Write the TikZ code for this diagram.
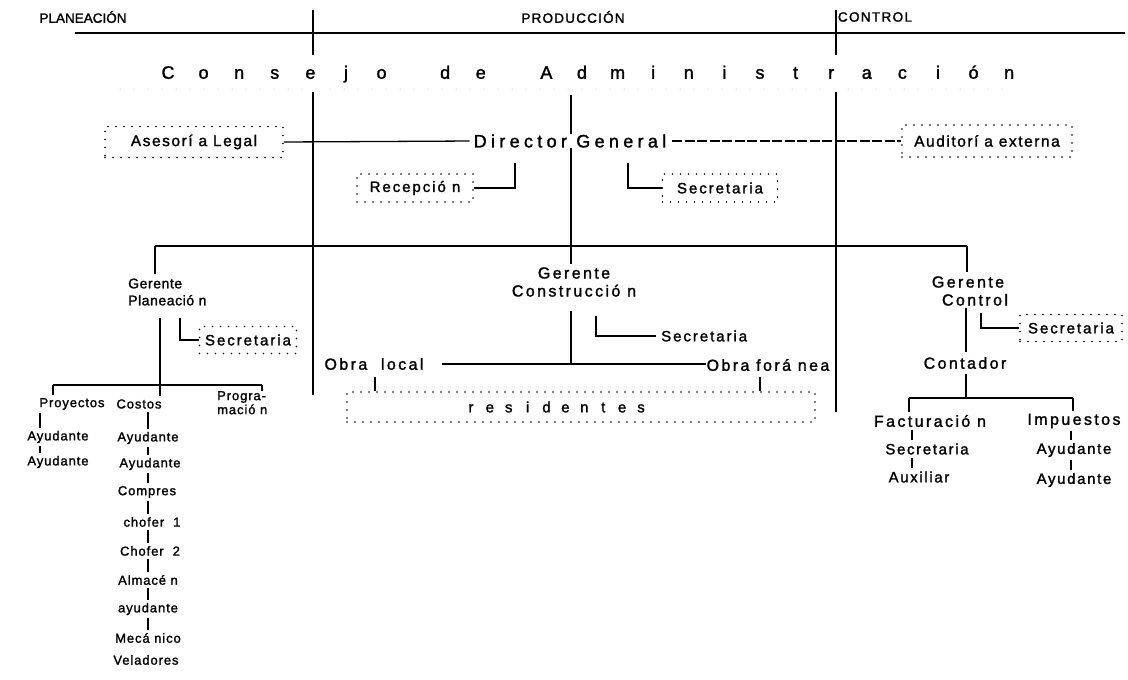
\documentclass[tikz,border=0pt]{standalone}
\usepackage{fontspec}
\setmainfont{Liberation Sans}[FakeBold=1.5]
\newcommand\cpitch[1]{\makebox[35.6pt]{#1}}
\newcommand\rpitch[1]{\makebox[18.9pt]{#1}}
\begin{document}
\begin{tikzpicture}[x=1pt,y=-1pt,
  conn/.style={line width=1.3pt},
  divider/.style={line width=1.8pt},
  dotbox/.style={draw, line width=1.6pt, dash pattern=on 0pt off 8pt, line cap=round, inner sep=0pt},
  hdr/.style={inner sep=0pt, font=\fontsize{13.5}{15}\selectfont\addfontfeature{LetterSpace=#1}},
  dgtxt/.style={inner sep=0pt, font=\fontsize{18}{20}\selectfont\addfontfeature{LetterSpace=24}},
  mid/.style={inner sep=0pt, align=center, font=\fontsize{16}{18}\selectfont\addfontfeature{LetterSpace=15}},
  low/.style={inner sep=0pt, font=\fontsize{15}{15}\selectfont\addfontfeature{LetterSpace=11}},
  lft/.style={inner sep=0pt, align=left, font=\fontsize{14}{17}\selectfont\addfontfeature{LetterSpace=4}},
  sml/.style={inner sep=0pt, font=\fontsize{13}{14}\selectfont\addfontfeature{LetterSpace=7}},
  tiny/.style={inner sep=0pt, font=\fontsize{15}{15}\selectfont\addfontfeature{LetterSpace=13}},
  boxtxt/.style={font=\fontsize{15.5}{16}\selectfont\addfontfeature{LetterSpace=10}},
  tick/.style={conn, shorten <=3pt, shorten >=3pt},
]
\fill[white] (0,0) rectangle (1128,680);
\useasboundingbox (0,0) rectangle (1128,680);

% ---- column headings and dividers
\node[hdr=0] (hplan) at (83,17) {PLANEACIÓN};
\node[hdr=9] (hprod) at (573,17) {PRODUCCIÓN};
\node[hdr=10] (hctrl) at (875,17) {CONTROL};
\coordinate (hl) at (75,33);
\coordinate (hr) at (1125,33);
\draw[conn] (hl) -- (hr);

\coordinate (d1a) at (313,10);  \coordinate (d1b) at (313,55);
\coordinate (d1c) at (313,92);  \coordinate (d1d) at (313,395);
\coordinate (d2a) at (836,10);  \coordinate (d2b) at (836,55);
\coordinate (d2c) at (836,92);  \coordinate (d2d) at (836,412);
\draw[divider] (d1a) -- (d1b) (d1c) -- (d1d);
\draw[divider] (d2a) -- (d2b) (d2c) -- (d2d);

% ---- board
\node[anchor=west, inner sep=0pt, font=\fontsize{18}{18}\selectfont] (cons) at (150,74)
  {\cpitch{C}\cpitch{o}\cpitch{n}\cpitch{s}\cpitch{e}\cpitch{j}\cpitch{o}\hspace{28pt}%
   \cpitch{d}\cpitch{e}\hspace{30pt}%
   \cpitch{A}\cpitch{d}\cpitch{m}\cpitch{i}\cpitch{n}\cpitch{i}\cpitch{s}\cpitch{t}\cpitch{r}\cpitch{a}\cpitch{c}\cpitch{i}\cpitch{ó}\cpitch{n}};
\coordinate (cdl) at (120,89);
\coordinate (cdr) at (1015,89);
\draw[gray!70, line width=1pt, dash pattern=on 0pt off 14pt, line cap=round] (cdl) -- (cdr);

% ---- general management
\node[dgtxt] (dg) at (570,141) {Director General};
\coordinate (ctop) at (571,95);
\draw[conn] (ctop) -- (ctop |- dg.north);

\node[dotbox, boxtxt, minimum width=178, minimum height=31] (ase) at (194,142) {Asesorí a Legal};
\node[dotbox, boxtxt, minimum width=170, minimum height=32] (aud) at (987,141) {Auditorí a externa};
\draw[conn, shorten >=4pt] (ase.east) -- (dg.west);
\draw[conn, dash pattern=on 10pt off 2.5pt, shorten <=6pt] (dg.east) -- (aud.west);

\node[dotbox, tiny, minimum width=116, minimum height=28] (rec) at (415,188) {Recepció n};
\node[dotbox, tiny, minimum width=115, minimum height=28] (sdg) at (720,188) {Secretaria};
\coordinate (rectop) at (515,163);
\coordinate (sdgtop) at (628,163);
\draw[conn] (rec.east) -| (rectop);
\draw[conn] (sdgtop) |- (sdg.west);

% ---- managers
\coordinate (busL) at (155,246);
\coordinate (busR) at (967,246);
\draw[conn] (busL) -- (busR);

\node[lft, anchor=west] (gpl) at (128,292) {Gerente\\Planeació n};
\node[mid] (gcon) at (574,282) {Gerente\\Construcció n};
\node[mid] (gctl) at (968,291) {Gerente\\\hspace*{14pt}Control};

\draw[conn, shorten >=4pt] (busL) -- (busL |- gpl.north);
\draw[conn, shorten >=3pt] (ctop |- dg.south) -- (ctop |- gcon.north);
\draw[conn, shorten >=4pt] (busR) -- (busR |- gctl.north);

% ---- planning branch
\node[dotbox, tiny, minimum width=97, minimum height=27] (spl) at (248,340) {Secretaria};
\coordinate (gpls) at (180,318);
\draw[conn] (gpls) |- (spl.west);

\coordinate (gplb) at (160,318);
\coordinate (lbusL) at (53,385);
\coordinate (lbusC) at (160,385);
\coordinate (lbusR) at (262,385);
\draw[conn] (gplb) -- (lbusC);
\draw[conn] (lbusL) -- (lbusR);

\node[sml] (proy) at (72,404) {Proyectos};
\node[sml] (cost) at (139,404) {Costos};
\node[sml, align=left, anchor=north west] (prog) at (217,391) {Progra-\\mació n};
\draw[conn, shorten >=3pt] (lbusL) -- (lbusL |- proy.north);
\draw[conn, shorten >=3pt] (lbusC) -- (lbusC |- cost.north);
\draw[conn] (lbusR) -- (lbusR |- prog.north);

\node[sml] (pa1) at (58,437) {Ayudante};
\node[sml] (pa2) at (58,462) {Ayudante};
\coordinate (pt1) at (40,437);
\draw[tick] (proy.south -| pt1) -- (pa1.north -| pt1);
\draw[tick] (pa1.south -| pt1) -- (pa2.north -| pt1);

\node[sml] (ca1) at (148,438) {Ayudante};
\node[sml] (ca2) at (150,464) {Ayudante};
\node[sml] (comp) at (147,492) {Compres};
\node[sml] (ch1) at (152,522) {chofer\ \ 1};
\node[sml] (ch2) at (150,551) {Chofer\ \ 2};
\node[sml] (alm) at (148,580) {Almacé n};
\node[sml] (ayu) at (148,609) {ayudante};
\node[sml] (mec) at (148,638) {Mecá nico};
\node[sml] (vel) at (146,660) {Veladores};
\coordinate (ct) at (148,0);
\draw[tick] (cost.south -| ct) -- (ca1.north -| ct);
\draw[tick] (ca1.south -| ct) -- (ca2.north -| ct);
\draw[tick] (ca2.south -| ct) -- (comp.north -| ct);
\draw[tick] (comp.south -| ct) -- (ch1.north -| ct);
\draw[tick] (ch1.south -| ct) -- (ch2.north -| ct);
\draw[tick] (ch2.south -| ct) -- (alm.north -| ct);
\draw[tick] (alm.south -| ct) -- (ayu.north -| ct);
\draw[tick] (ayu.south -| ct) -- (mec.north -| ct);

% ---- construction branch
\node[tiny, anchor=west] (csec) at (661,336) {Secretaria};
\coordinate (gcs) at (596,316);
\draw[conn, shorten >=5pt] (gcs) |- (csec.west);

\node[mid] (obl) at (374,364) {Obra\ \ local};
\node[mid] (obf) at (768,365) {Obra forá nea};
\draw[conn, shorten <=18pt] (obl.east) -- (obl.east -| obf.west);
\draw[conn, shorten <=14pt] (ctop |- gcon.south) -- (ctop |- obl.east);

\node[dotbox, minimum width=468, minimum height=30,
      font=\fontsize{15}{15}\selectfont] (res) at (581,407)
  {\rpitch{r}\rpitch{e}\rpitch{s}\rpitch{i}\rpitch{d}\rpitch{e}\rpitch{n}\rpitch{t}\rpitch{e}\rpitch{s}\hspace*{50pt}};
\coordinate (oll) at (375,377);
\coordinate (ofl) at (760,377);
\draw[conn] (oll) -- (oll |- res.north);
\draw[conn] (ofl) -- (ofl |- res.north);

% ---- control branch
\node[dotbox, tiny, minimum width=102, minimum height=27] (sctl) at (1071,328) {Secretaria};
\coordinate (gcts) at (981,313);
\draw[conn] (gcts) |- (sctl.west);

\node[mid] (cont) at (965,363) {Contador};
\coordinate (gcv) at (966,308);
\draw[conn, shorten >=5pt] (gcv) -- (gcv |- cont.north);

\coordinate (rbL) at (909,398);
\coordinate (rbR) at (1073,398);
\draw[conn] (rbL) -- (rbR);
\draw[conn, shorten <=5pt] (cont.south -| gcv) -- (gcv |- rbL);

\node[mid] (fac) at (930,421) {Facturació n};
\node[mid] (imp) at (1074,421) {Impuestos};
\draw[conn, shorten >=3pt] (rbL) -- (rbL |- fac.north);
\draw[conn, shorten >=3pt] (rbR) -- (rbR |- imp.north);

\node[low] (rsec) at (927,449) {Secretaria};
\node[low] (aux) at (919,477) {Auxiliar};
\node[low] (ra1) at (1074,450) {Ayudante};
\node[low] (ra2) at (1074,480) {Ayudante};
\coordinate (fx) at (912,0);
\coordinate (ix) at (1071,0);
\draw[tick] (fac.south -| fx) -- (rsec.north -| fx);
\draw[tick] (rsec.south -| fx) -- (aux.north -| fx);
\draw[tick] (imp.south -| ix) -- (ra1.north -| ix);
\draw[tick] (ra1.south -| ix) -- (ra2.north -| ix);
\end{tikzpicture}
\end{document}
